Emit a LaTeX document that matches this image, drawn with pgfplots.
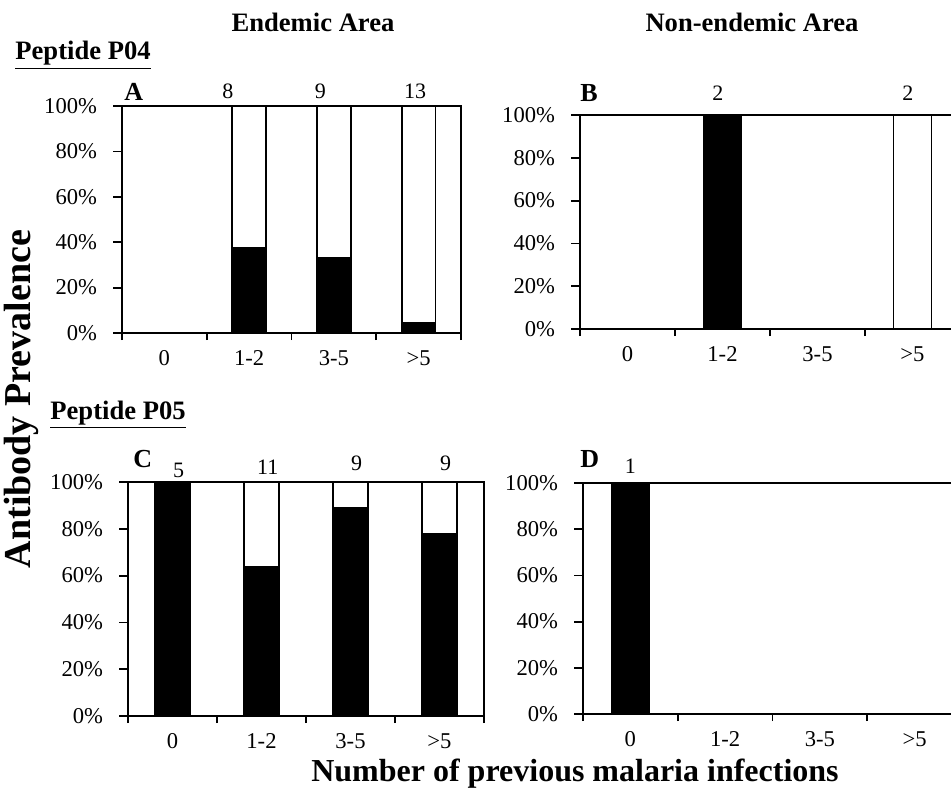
\documentclass[border=0pt]{standalone}
\usepackage{fontspec}
\setmainfont{Liberation Serif}
\usepackage{pgfplots}
\pgfplotsset{compat=1.18}
\pgfplotsset{
  panel/.style={
    scale only axis, ybar stacked, bar width=0.4,
    xmin=-0.5, xmax=3.5, ymin=0, ymax=100,
    enlarge x limits=false, enlarge y limits=false,
    xtick={0,1,2,3}, xticklabels={0,1-2,3-5,>5},
    minor xtick={-0.5,0.5,1.5,2.5,3.5},
    ytick={0,20,40,60,80,100},
    yticklabels={0\%,20\%,40\%,60\%,80\%,100\%},
    tick pos=left, tick align=outside,
    major x tick style={draw=none},
    major tick length=4.5pt, minor tick length=3.5pt,
    axis line style={line width=1pt},
    every tick/.append style={black, line width=0.9pt},
    tick label style={font=\fontsize{11.3}{13}\selectfont},
    xticklabel style={text height=1.6ex, text depth=0.3ex, yshift=-1pt},
    yticklabel style={xshift=-4.5pt},
    /pgf/number format/assume math mode=true,
    clip=false, anchor=south west,
  },
}
\tikzset{
  posbar/.style={fill=black, draw=black, line width=0.9pt},
  negbar/.style={fill=white, draw=black, line width=0.9pt},
  num/.style={font=\fontsize{11}{13}\selectfont, anchor=base, inner sep=0pt},
  ttl/.style={font=\bfseries\fontsize{13.3}{16}\selectfont, inner sep=0pt},
  pl/.style={font=\bfseries\fontsize{13}{15}\selectfont, inner sep=0pt, anchor=base west},
}
\begin{document}
\begin{tikzpicture}
\useasboundingbox (0,0) rectangle (475.5pt,394.5pt);
\clip (0,0) rectangle (475.5pt,394.5pt);

% Panel A
\begin{axis}[panel, at={(61pt,228pt)}, width=169.5pt, height=113.5pt]
\addplot[posbar] coordinates {(0,0) (1,37.5) (2,33.3) (3,4.5)};
\addplot[negbar] coordinates {(0,0) (1,62.5) (2,66.7) (3,95.5)};
\node[num] at (axis cs:0.75,103.1) {8};
\node[num] at (axis cs:1.84,103.1) {9};
\node[num] at (axis cs:2.96,103.1) {13};
\end{axis}

% Panel B
\begin{axis}[panel, at={(290pt,230pt)}, width=190pt, height=107pt]
\addplot[posbar] coordinates {(0,0) (1,100) (2,0) (3,0)};
\addplot[negbar] coordinates {(0,0) (1,0) (2,0) (3,100)};
\node[num] at (axis cs:0.95,107) {2};
\node[num] at (axis cs:2.95,107) {2};
\end{axis}

% Panel C
\begin{axis}[panel, at={(64pt,36.5pt)}, width=178pt, height=117pt]
\addplot[posbar] coordinates {(0,100) (1,63.6) (2,88.9) (3,77.8)};
\addplot[negbar] coordinates {(0,0) (1,36.4) (2,11.1) (3,22.2)};
\node[num] at (axis cs:0.07,102.1) {5};
\node[num] at (axis cs:1.07,103) {11};
\node[num] at (axis cs:2.07,105.1) {9};
\node[num] at (axis cs:3.07,105.1) {9};
\end{axis}

% Panel D
\begin{axis}[panel, at={(291.5pt,37.5pt)}, width=189.5pt, height=115.5pt]
\addplot[posbar] coordinates {(0,100) (1,0) (2,0) (3,0)};
\addplot[negbar] coordinates {(0,0) (1,0) (2,0) (3,0)};
\node[num] at (axis cs:0,104.3) {1};
\end{axis}

% Titles and labels
\node[ttl, anchor=base] at (156.5pt,378.5pt) {Endemic Area};
\node[ttl, anchor=base] at (376pt,378.5pt) {Non-endemic Area};
\node[ttl, anchor=base west] at (7.5pt,364.5pt) {\underline{Peptide P04}};
\node[ttl, anchor=base west] at (25pt,185pt) {\underline{Peptide P05}};
\node[pl] at (62pt,344.5pt) {A};
\node[pl] at (290pt,343.5pt) {B};
\node[pl] at (66.5pt,161pt) {C};
\node[pl] at (290pt,161pt) {D};
\node[font=\bfseries\fontsize{19}{22}\selectfont, rotate=90, inner sep=0pt] at (10.5pt,195pt) {Antibody Prevalence};
\node[font=\bfseries\fontsize{16}{19}\selectfont, anchor=base, inner sep=0pt] at (287.5pt,3.6pt) {Number of previous malaria infections};
\end{tikzpicture}
\end{document}
